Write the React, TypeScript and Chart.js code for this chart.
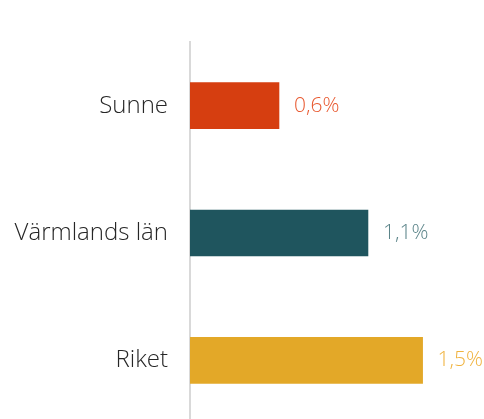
import React, { useEffect, useRef } from "react";
import { Chart, registerables } from "chart.js";

Chart.register(...registerables);

const categories = ["Sunne", "Värmlands län", "Riket"];
const values = [0.57, 1.14, 1.49];
const barColors = ["#d63e10", "#1f555e", "#e3a828"];
const labelColors = ["#e8582f", "#5b8489", "#f0b33f"];

const FONT = "'Open Sans', Lato, sans-serif";

const valueLabels = {
  id: "valueLabels",
  afterDatasetsDraw(chart: any) {
    const ctx = chart.ctx;
    const meta = chart.getDatasetMeta(0);
    ctx.save();
    ctx.font = `300 21px ${FONT}`;
    ctx.textAlign = "left";
    ctx.textBaseline = "middle";
    meta.data.forEach((bar: any, i: number) => {
      ctx.fillStyle = labelColors[i];
      const txt = values[i].toFixed(1).replace(".", ",") + "%";
      ctx.fillText(txt, bar.x + 15, bar.y);
    });
    ctx.restore();
  },
};

export default function App() {
  const ref = useRef<HTMLCanvasElement>(null);
  useEffect(() => {
    const chart = new Chart(ref.current!, {
      type: "bar",
      data: {
        labels: categories,
        datasets: [
          {
            data: values,
            backgroundColor: barColors,
            barThickness: 46,
          },
        ],
      },
      options: {
        indexAxis: "y",
        animation: false,
        responsive: true,
        maintainAspectRatio: false,
        layout: { padding: { top: 42, right: 13, bottom: 0, left: 0 } },
        plugins: { legend: { display: false }, tooltip: { enabled: false } },
        scales: {
          x: { display: false, min: 0, max: 1.8 },
          y: {
            grid: { display: false, drawTicks: false },
            border: { display: true, color: "#d9d9d9", width: 2 },
            ticks: {
              padding: 22,
              color: "#262626",
              font: { family: FONT, size: 24, weight: 300 as any },
            },
            afterFit(scale: any) {
              scale.width = 190;
              scale.paddingTop = 0;
              scale.paddingBottom = 0;
            },
          },
        },
      },
      plugins: [valueLabels],
    });
    return () => chart.destroy();
  }, []);
  return (
    <div style={{ position: "fixed", left: 0, top: 0, width: 484, height: 424 }}>
      <canvas ref={ref} />
    </div>
  );
}
